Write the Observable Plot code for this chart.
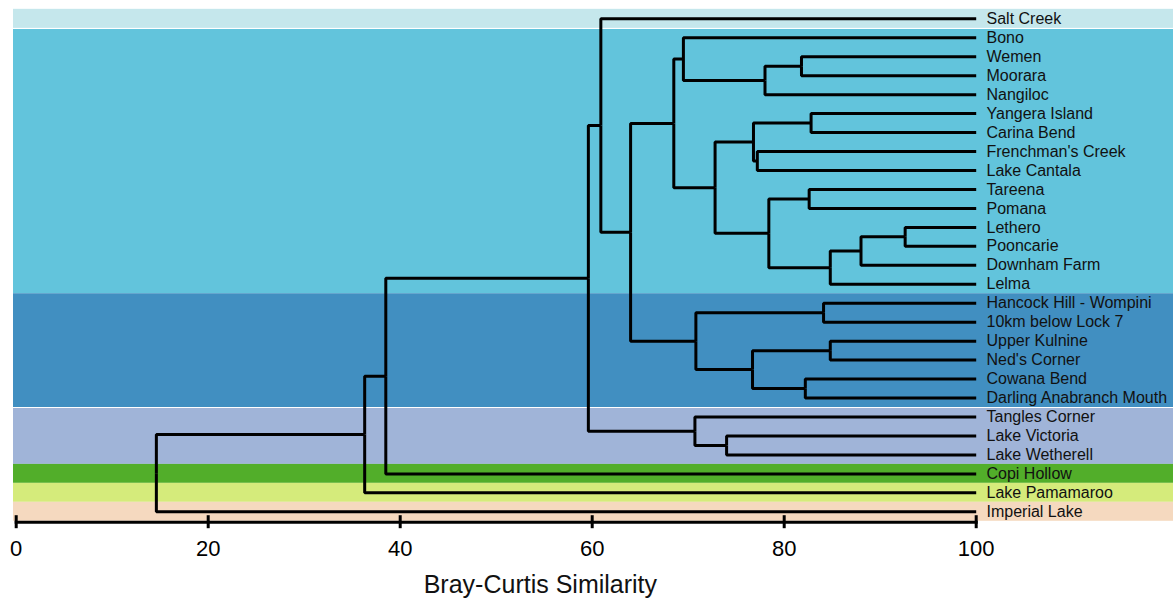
<!DOCTYPE html>
<html>
<head>
<meta charset="utf-8">
<script src="https://cdn.jsdelivr.net/npm/d3@7"></script>
<script src="https://cdn.jsdelivr.net/npm/@observablehq/plot@0.6"></script>
<style>
  html, body { margin: 0; padding: 0; background: #fff; }
  #chart svg { display: block; }
</style>
</head>
<body>
<div id="chart"></div>
<script>
// Leaves, top to bottom
const leaves = [
  "Salt Creek", "Bono", "Wemen", "Moorara", "Nangiloc", "Yangera Island",
  "Carina Bend", "Frenchman's Creek", "Lake Cantala", "Tareena", "Pomana",
  "Lethero", "Pooncarie", "Downham Farm", "Lelma", "Hancock Hill - Wompini",
  "10km below Lock 7", "Upper Kulnine", "Ned's Corner", "Cowana Bend",
  "Darling Anabranch Mouth", "Tangles Corner", "Lake Victoria", "Lake Wetherell",
  "Copi Hollow", "Lake Pamamaroo", "Imperial Lake"
];

// Merges: merge k has id "m{k+1}"
const mergeLeft = [
  "Lethero", "m1", "m2", "Tareena", "m4", "Yangera Island", "Frenchman's Creek",
  "m6", "m8", "Wemen", "m10", "Bono", "m12", "Hancock Hill - Wompini",
  "Upper Kulnine", "Cowana Bend", "m15", "m14", "m13", "Salt Creek",
  "Lake Victoria", "Tangles Corner", "m20", "m23", "m24", "m25"
];
const mergeRight = [
  "Pooncarie", "Downham Farm", "Lelma", "Pomana", "m3", "Carina Bend", "Lake Cantala",
  "m7", "m5", "Moorara", "Nangiloc", "m11", "m9", "10km below Lock 7",
  "Ned's Corner", "Darling Anabranch Mouth", "m16", "m17", "m18", "m19",
  "Lake Wetherell", "m21", "m22", "Copi Hollow", "Lake Pamamaroo", "Imperial Lake"
];
const mergeSimilarity = [
  92.6, 88.0, 84.8, 82.6, 78.4, 82.8, 77.2,
  76.8, 72.8, 81.8, 78.0, 69.5, 68.5, 84.1,
  84.8, 82.2, 76.7, 70.8, 64.0, 60.9,
  74.0, 70.7, 59.6, 38.5, 36.3, 14.6
];

// Coloured groups (first and last leaf index)
const groupFirst = [0, 1, 15, 21, 24, 25, 26];
const groupLast  = [0, 14, 20, 23, 24, 25, 26];
const groupColor = ["#c5e7ec", "#62c4dc", "#418fc1", "#a0b4d8", "#52ae2a", "#d5eb7b", "#f5d9bf"];
const whiteGapAfterGroup = [0, 2];

const xTicks = [0, 20, 40, 60, 80, 100];
const xLabel = "Bray-Curtis Similarity";

// ---- build tree geometry from the merges ----
const nodeY = new Map(), nodeH = new Map();
leaves.forEach((n, i) => { nodeY.set(n, i); nodeH.set(n, 100); });
const pathPts = [];
mergeLeft.forEach((a, k) => {
  const b = mergeRight[k], h = mergeSimilarity[k], id = "m" + (k + 1);
  const yp = (nodeY.get(a) + nodeY.get(b)) / 2;
  for (const c of [a, b]) {
    const key = id + ":" + c;
    pathPts.push({key, x: nodeH.get(c), y: nodeY.get(c)});
    pathPts.push({key, x: h, y: nodeY.get(c)});
    pathPts.push({key, x: h, y: yp});
  }
  nodeY.set(id, yp); nodeH.set(id, h);
});

const groups = groupFirst.map((f, i) => ({y1: f - 0.5, y2: groupLast[i] + 0.5, color: groupColor[i]}));
const gaps = whiteGapAfterGroup.map(i => groupLast[i] + 0.5);

const chart = Plot.plot({
  width: 1173,
  height: 601,
  marginLeft: 15.7,
  marginRight: 197.3,
  marginTop: 0,
  marginBottom: 79.3,
  style: {fontFamily: "'Liberation Sans', Arial, sans-serif", background: "#fff", color: "#000"},
  x: {domain: [0, 100], axis: null},
  y: {domain: [0, leaves.length - 1], range: [18.3, 511.3], axis: null},
  color: {type: "identity"},
  marks: [
    Plot.rect(groups, {y1: "y1", y2: "y2", fill: "color", insetLeft: -2.7, insetRight: -197.3}),
    Plot.ruleY(gaps, {y: d => d, stroke: "#fff", strokeWidth: 1.2, insetLeft: -2.7, insetRight: -197.3}),
    Plot.line(pathPts, {x: "x", y: "y", z: "key", stroke: "#000", strokeWidth: 3, strokeLinejoin: "miter", strokeLinecap: "butt"}),
    Plot.text(leaves, {x: () => 100, y: (d, i) => i, text: d => d, textAnchor: "start", lineAnchor: "middle", dx: 10.3, fontSize: 16, fill: "#111"}),
    Plot.frame({anchor: "bottom", stroke: "#000", strokeWidth: 3}),
    Plot.axisX({ticks: xTicks, tickSize: 13, dy: -6.5, strokeWidth: 3, tickFormat: () => "", label: null}),
    Plot.axisX({ticks: xTicks, tickSize: 0, tickPadding: 18.5, fontSize: 22, fill: "#000", label: null}),
    Plot.text([xLabel], {frameAnchor: "bottom-left", dx: 407.5, dy: 62.5, textAnchor: "start", lineAnchor: "middle", fontSize: 25, fill: "#111"})
  ]
});
document.getElementById("chart").appendChild(chart);
</script>
</body>
</html>
